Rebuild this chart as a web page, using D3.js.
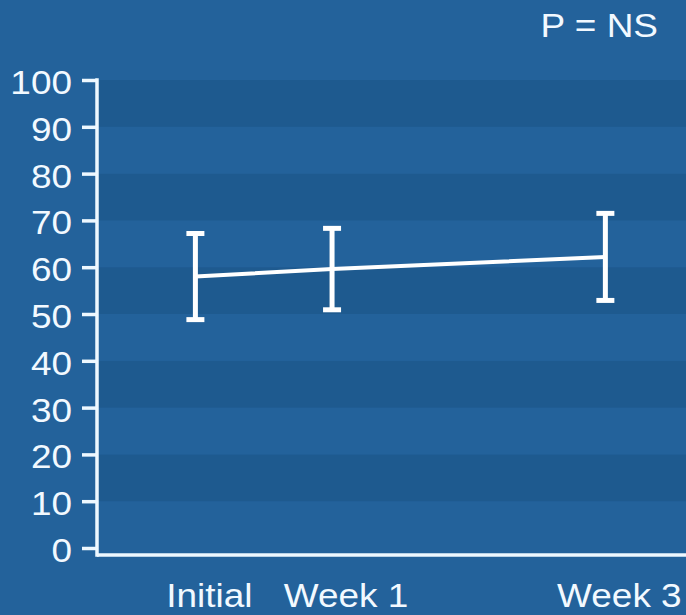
<!DOCTYPE html>
<html>
<head>
<meta charset="utf-8">
<script src="https://cdn.jsdelivr.net/npm/d3@7"></script>
<style>
  html, body { margin: 0; padding: 0; background: #23629b; }
  svg { display: block; }
  text { font-family: "Liberation Sans", Arial, sans-serif; fill: #f2f9ff; }
</style>
</head>
<body>
<svg id="chart" width="686" height="615"></svg>
<script>
// Time points (weeks since start) and their axis labels
const timeLabels = ["Initial", "Week 1", "Week 3"];
const timeWeeks = [0, 1, 3];

// Mean score and error (±) at each time point
const means = [58.0, 59.6, 62.2];
const errors = [9.2, 8.7, 9.3];

// Y axis ticks
const yTicks = [0, 10, 20, 30, 40, 50, 60, 70, 80, 90, 100];

const annotation = "P = NS";

const W = 686, H = 615;
const margin = { top: 80, right: 0, bottom: 67, left: 97 };
const fontSize = 33;
const stretch = 1.12; // slightly wide lettering

const colors = {
  background: "#23629b",
  bandDark: "#1e5a8f",
  bandLight: "#23629b",
  axis: "#eef8ff",
  line: "#ffffff"
};

const svg = d3.select("#chart");

svg.append("rect")
  .attr("width", W).attr("height", H)
  .attr("fill", colors.background);

const y = d3.scaleLinear()
  .domain([0, 100])
  .range([H - margin.bottom, margin.top]);

const x = d3.scaleLinear()
  .domain([-0.72, 3.59])
  .range([margin.left, W - margin.right]);

// Places a widened text at (px, py)
function wideText(sel, px, py) {
  sel.attr("x", 0).attr("y", 0)
    .attr("transform", (d, i) => {
      const tx = typeof px === "function" ? px(d, i) : px;
      const ty = typeof py === "function" ? py(d, i) : py;
      return `translate(${tx},${ty}) scale(${stretch},1)`;
    });
}

// Alternating horizontal bands, one per 10-unit step
const bandStarts = yTicks.slice(0, -1);
svg.append("g")
  .selectAll("rect")
  .data(bandStarts)
  .join("rect")
  .attr("x", margin.left)
  .attr("width", W - margin.right - margin.left)
  .attr("y", d => y(d + 10))
  .attr("height", d => y(d) - y(d + 10))
  .attr("fill", (d, i) => (i % 2 === 1) ? colors.bandDark : colors.bandLight);

// Y axis
const yAxis = d3.axisLeft(y)
  .tickValues(yTicks)
  .tickSize(15)
  .tickSizeOuter(0);

const gy = svg.append("g")
  .attr("transform", `translate(${margin.left},0)`)
  .call(yAxis);
gy.select(".domain").remove();
gy.selectAll(".tick line")
  .attr("stroke", colors.axis)
  .attr("stroke-width", 3.5);
gy.selectAll(".tick text")
  .attr("fill", "#f2f9ff")
  .attr("font-size", fontSize)
  .attr("font-family", "Liberation Sans, Arial, sans-serif")
  .attr("dy", "0.38em")
  .call(wideText, -25, 1);

// Axis lines (vertical reaches slightly below zero, joining the baseline)
const baseY = y(0) + 7;
svg.append("line")
  .attr("x1", margin.left).attr("x2", margin.left)
  .attr("y1", y(100) - 1.75).attr("y2", baseY + 1.75)
  .attr("stroke", colors.axis).attr("stroke-width", 3.5);
svg.append("line")
  .attr("x1", margin.left).attr("x2", W)
  .attr("y1", baseY).attr("y2", baseY)
  .attr("stroke", colors.axis).attr("stroke-width", 3.5);

// X labels
svg.append("g")
  .selectAll("text")
  .data(timeWeeks)
  .join("text")
  .attr("text-anchor", "middle")
  .attr("font-size", fontSize)
  .text((d, i) => timeLabels[i])
  .call(wideText, d => x(d) + 14, 607);

// Mean line
const pts = timeWeeks.map((w, i) => ({ w, m: means[i], e: errors[i] }));
svg.append("path")
  .datum(pts)
  .attr("fill", "none")
  .attr("stroke", colors.line)
  .attr("stroke-width", 4)
  .attr("d", d3.line().x(d => x(d.w)).y(d => y(d.m)));

// Error bars with caps
const eb = svg.append("g")
  .selectAll("g")
  .data(pts)
  .join("g")
  .attr("stroke", colors.line)
  .attr("stroke-width", 5);
eb.append("line")
  .attr("x1", d => x(d.w)).attr("x2", d => x(d.w))
  .attr("y1", d => y(d.m + d.e)).attr("y2", d => y(d.m - d.e));
eb.append("line")
  .attr("x1", d => x(d.w) - 9).attr("x2", d => x(d.w) + 9)
  .attr("y1", d => y(d.m + d.e)).attr("y2", d => y(d.m + d.e));
eb.append("line")
  .attr("x1", d => x(d.w) - 9).attr("x2", d => x(d.w) + 9)
  .attr("y1", d => y(d.m - d.e)).attr("y2", d => y(d.m - d.e));

// Significance annotation
svg.append("text")
  .attr("text-anchor", "end")
  .attr("font-size", fontSize)
  .text(annotation)
  .call(wideText, 658, 37);
</script>
</body>
</html>
